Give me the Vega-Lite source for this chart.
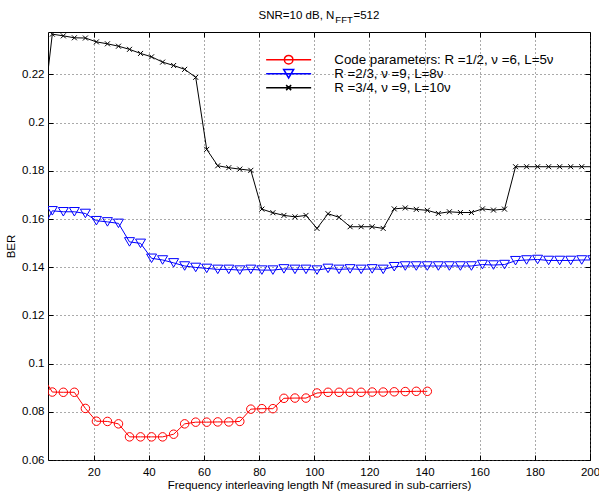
{
  "$schema": "https://vega.github.io/schema/vega-lite/v6.json",
  "width": 542,
  "height": 428,
  "autosize": {"type": "none"},
  "padding": {"left": 48, "top": 32, "right": 9, "bottom": 33},
  "background": "white",
  "title": {
    "text": "SNR=10 dB, N\u00a0\u00a0\u00a0\u00a0\u00a0\u00a0=512",
    "subtitle": "\u200b\u00a0\u00a0\u00a0\u00a0\u00a0\u00a0\u00a0\u00a0\u00a0\u00a0\u00a0\u00a0\u00a0\u00a0\u00a0\u00a0\u00a0\u00a0\u00a0FFT",
    "anchor": "middle",
    "font": "Liberation Sans",
    "fontSize": 11.5,
    "fontWeight": "normal",
    "color": "black",
    "subtitleFont": "Liberation Sans",
    "subtitleFontSize": 9.5,
    "subtitleColor": "black",
    "subtitlePadding": -6,
    "offset": 7
  },
  "config": {"view": {"stroke": "black", "strokeWidth": 1}, "font": "Liberation Sans"},
  "datasets": {
    "ber": [
      {"x": 1, "y": 0.0955, "s": "a"}, {"x": 5, "y": 0.0882, "s": "a"}, {"x": 9, "y": 0.0881, "s": "a"}, {"x": 13, "y": 0.0881, "s": "a"},
      {"x": 17, "y": 0.0814, "s": "a"}, {"x": 21, "y": 0.0761, "s": "a"}, {"x": 25, "y": 0.076, "s": "a"}, {"x": 29, "y": 0.075, "s": "a"},
      {"x": 33, "y": 0.0696, "s": "a"}, {"x": 37, "y": 0.0696, "s": "a"}, {"x": 41, "y": 0.0696, "s": "a"}, {"x": 45, "y": 0.0696, "s": "a"},
      {"x": 49, "y": 0.0707, "s": "a"}, {"x": 53, "y": 0.075, "s": "a"}, {"x": 57, "y": 0.0757, "s": "a"}, {"x": 61, "y": 0.0757, "s": "a"},
      {"x": 65, "y": 0.0758, "s": "a"}, {"x": 69, "y": 0.0758, "s": "a"}, {"x": 73, "y": 0.076, "s": "a"}, {"x": 77, "y": 0.0811, "s": "a"},
      {"x": 81, "y": 0.0813, "s": "a"}, {"x": 85, "y": 0.0813, "s": "a"}, {"x": 89, "y": 0.0856, "s": "a"}, {"x": 93, "y": 0.0857, "s": "a"},
      {"x": 97, "y": 0.0857, "s": "a"}, {"x": 101, "y": 0.0878, "s": "a"}, {"x": 105, "y": 0.0881, "s": "a"}, {"x": 109, "y": 0.0881, "s": "a"},
      {"x": 113, "y": 0.0881, "s": "a"}, {"x": 117, "y": 0.0881, "s": "a"}, {"x": 121, "y": 0.0882, "s": "a"}, {"x": 125, "y": 0.0882, "s": "a"},
      {"x": 129, "y": 0.0883, "s": "a"}, {"x": 133, "y": 0.0884, "s": "a"}, {"x": 137, "y": 0.0885, "s": "a"}, {"x": 141, "y": 0.0885, "s": "a"},

      {"x": 1, "y": 0.1549, "s": "b"}, {"x": 5, "y": 0.1634, "s": "b"}, {"x": 9, "y": 0.163, "s": "b"}, {"x": 13, "y": 0.163, "s": "b"},
      {"x": 17, "y": 0.1623, "s": "b"}, {"x": 21, "y": 0.1593, "s": "b"}, {"x": 25, "y": 0.1588, "s": "b"}, {"x": 29, "y": 0.1582, "s": "b"},
      {"x": 33, "y": 0.1505, "s": "b"}, {"x": 37, "y": 0.1499, "s": "b"}, {"x": 41, "y": 0.1437, "s": "b"}, {"x": 45, "y": 0.143, "s": "b"},
      {"x": 49, "y": 0.1418, "s": "b"}, {"x": 53, "y": 0.1405, "s": "b"}, {"x": 57, "y": 0.1399, "s": "b"}, {"x": 61, "y": 0.1395, "s": "b"},
      {"x": 65, "y": 0.1391, "s": "b"}, {"x": 69, "y": 0.1391, "s": "b"}, {"x": 73, "y": 0.1388, "s": "b"}, {"x": 77, "y": 0.1391, "s": "b"},
      {"x": 81, "y": 0.1388, "s": "b"}, {"x": 85, "y": 0.1388, "s": "b"}, {"x": 89, "y": 0.1393, "s": "b"}, {"x": 93, "y": 0.1391, "s": "b"},
      {"x": 97, "y": 0.1391, "s": "b"}, {"x": 101, "y": 0.1388, "s": "b"}, {"x": 105, "y": 0.1395, "s": "b"}, {"x": 109, "y": 0.1391, "s": "b"},
      {"x": 113, "y": 0.1393, "s": "b"}, {"x": 117, "y": 0.1391, "s": "b"}, {"x": 121, "y": 0.1393, "s": "b"}, {"x": 125, "y": 0.1391, "s": "b"},
      {"x": 129, "y": 0.1402, "s": "b"}, {"x": 133, "y": 0.1405, "s": "b"}, {"x": 137, "y": 0.1405, "s": "b"}, {"x": 141, "y": 0.1405, "s": "b"},
      {"x": 145, "y": 0.1405, "s": "b"}, {"x": 149, "y": 0.1405, "s": "b"}, {"x": 153, "y": 0.1405, "s": "b"}, {"x": 157, "y": 0.1405, "s": "b"},
      {"x": 161, "y": 0.1411, "s": "b"}, {"x": 165, "y": 0.1409, "s": "b"}, {"x": 169, "y": 0.1411, "s": "b"}, {"x": 173, "y": 0.1427, "s": "b"},
      {"x": 177, "y": 0.143, "s": "b"}, {"x": 181, "y": 0.1432, "s": "b"}, {"x": 185, "y": 0.1428, "s": "b"}, {"x": 189, "y": 0.1428, "s": "b"},
      {"x": 193, "y": 0.1428, "s": "b"}, {"x": 197, "y": 0.143, "s": "b"}, {"x": 201, "y": 0.143, "s": "b"},

      {"x": 1, "y": 0.1974, "s": "c"}, {"x": 5, "y": 0.2367, "s": "c"}, {"x": 9, "y": 0.236, "s": "c"}, {"x": 13, "y": 0.2352, "s": "c"},
      {"x": 17, "y": 0.2351, "s": "c"}, {"x": 21, "y": 0.2335, "s": "c"}, {"x": 25, "y": 0.2327, "s": "c"}, {"x": 29, "y": 0.2317, "s": "c"},
      {"x": 33, "y": 0.2304, "s": "c"}, {"x": 37, "y": 0.2287, "s": "c"}, {"x": 41, "y": 0.2273, "s": "c"}, {"x": 45, "y": 0.2251, "s": "c"},
      {"x": 49, "y": 0.2237, "s": "c"}, {"x": 53, "y": 0.2221, "s": "c"}, {"x": 57, "y": 0.2188, "s": "c"}, {"x": 61, "y": 0.1889, "s": "c"},
      {"x": 65, "y": 0.1821, "s": "c"}, {"x": 69, "y": 0.1813, "s": "c"}, {"x": 73, "y": 0.1807, "s": "c"}, {"x": 77, "y": 0.1802, "s": "c"},
      {"x": 81, "y": 0.1641, "s": "c"}, {"x": 85, "y": 0.1626, "s": "c"}, {"x": 89, "y": 0.1615, "s": "c"}, {"x": 93, "y": 0.1609, "s": "c"},
      {"x": 97, "y": 0.1615, "s": "c"}, {"x": 101, "y": 0.1561, "s": "c"}, {"x": 105, "y": 0.1622, "s": "c"}, {"x": 109, "y": 0.1607, "s": "c"},
      {"x": 113, "y": 0.1568, "s": "c"}, {"x": 117, "y": 0.1568, "s": "c"}, {"x": 121, "y": 0.1568, "s": "c"}, {"x": 125, "y": 0.1561, "s": "c"},
      {"x": 129, "y": 0.1642, "s": "c"}, {"x": 133, "y": 0.1646, "s": "c"}, {"x": 137, "y": 0.164, "s": "c"}, {"x": 141, "y": 0.1636, "s": "c"},
      {"x": 145, "y": 0.1623, "s": "c"}, {"x": 149, "y": 0.163, "s": "c"}, {"x": 153, "y": 0.1627, "s": "c"}, {"x": 157, "y": 0.1627, "s": "c"},
      {"x": 161, "y": 0.1642, "s": "c"}, {"x": 165, "y": 0.1637, "s": "c"}, {"x": 169, "y": 0.1641, "s": "c"}, {"x": 173, "y": 0.1817, "s": "c"},
      {"x": 177, "y": 0.1817, "s": "c"}, {"x": 181, "y": 0.1817, "s": "c"}, {"x": 185, "y": 0.1817, "s": "c"}, {"x": 189, "y": 0.1817, "s": "c"},
      {"x": 193, "y": 0.1817, "s": "c"}, {"x": 197, "y": 0.1817, "s": "c"}, {"x": 201, "y": 0.1817, "s": "c"}
    ]
  },
  "data": {"name": "ber"},
  "resolve": {"axis": {"x": "independent", "y": "independent"}},
  "layer": [
    {
      "mark": {"type": "line", "strokeWidth": 1, "clip": true},
      "encoding": {
        "x": {"field": "x", "type": "quantitative",
          "scale": {"domain": [3.44, 200], "nice": false, "zero": false},
          "axis": {"orient": "bottom", "values": [20, 40, 60, 80, 100, 120, 140, 160, 180, 200],
            "grid": true, "gridDash": [1, 3], "gridColor": "#555", "gridWidth": 1,
            "domain": false, "ticks": true, "tickSize": -5, "tickColor": "black", "tickWidth": 1,
            "labelPadding": 11, "labelFont": "Liberation Sans", "labelFontSize": 11.5, "labelColor": "black",
            "labelFlush": false, "labelOverlap": false,
            "title": "Frequency interleaving length Nf (measured in sub-carriers)",
            "titleFont": "Liberation Sans", "titleFontSize": 11.5, "titleFontWeight": "normal", "titleColor": "black", "titlePadding": 2}},
        "y": {"field": "y", "type": "quantitative",
          "scale": {"domain": [0.06, 0.2376], "nice": false, "zero": false},
          "axis": {"orient": "left", "values": [0.06, 0.08, 0.1, 0.12, 0.14, 0.16, 0.18, 0.2, 0.22], "format": "~g",
            "grid": true, "gridDash": [1, 3], "gridColor": "#555", "gridWidth": 1,
            "domain": false, "ticks": true, "tickSize": -5, "tickColor": "black", "tickWidth": 1,
            "labelPadding": 9, "labelFont": "Liberation Sans", "labelFontSize": 11.5, "labelColor": "black",
            "labelFlush": false, "labelOverlap": false,
            "title": "BER", "titleFont": "Liberation Sans", "titleFontSize": 11.5, "titleFontWeight": "normal", "titleColor": "black", "titlePadding": 5}},
        "color": {"field": "s", "type": "nominal", "scale": {"domain": ["a", "b", "c"], "range": ["#ff0000", "#0000ff", "#000000"]}},
        "detail": {"field": "s"}
      }
    },
    {
      "transform": [{"filter": "datum.s == 'a'"}],
      "mark": {"type": "point", "shape": "circle", "filled": false, "size": 72, "strokeWidth": 1, "opacity": 1, "clip": true},
      "encoding": {
        "x": {"field": "x", "type": "quantitative", "scale": {"domain": [3.44, 200], "nice": false, "zero": false}, "axis": null},
        "y": {"field": "y", "type": "quantitative", "scale": {"domain": [0.06, 0.2376], "nice": false, "zero": false}, "axis": null},
        "color": {"field": "s", "type": "nominal"}
      }
    },
    {
      "transform": [{"filter": "datum.s == 'b'"}],
      "mark": {"type": "point", "shape": "M-1,-0.85L1,-0.85L0,0.85Z", "filled": false, "size": 100, "strokeWidth": 1, "opacity": 1, "clip": true},
      "encoding": {
        "x": {"field": "x", "type": "quantitative", "scale": {"domain": [3.44, 200], "nice": false, "zero": false}, "axis": null},
        "y": {"field": "y", "type": "quantitative", "scale": {"domain": [0.06, 0.2376], "nice": false, "zero": false}, "axis": null},
        "color": {"field": "s", "type": "nominal"}
      }
    },
    {
      "transform": [{"filter": "datum.s == 'c'"}],
      "mark": {"type": "point", "shape": "M-1,-1L1,1M-1,1L1,-1", "filled": false, "size": 25, "strokeWidth": 1, "opacity": 1, "clip": true},
      "encoding": {
        "x": {"field": "x", "type": "quantitative", "scale": {"domain": [3.44, 200], "nice": false, "zero": false}, "axis": null},
        "y": {"field": "y", "type": "quantitative", "scale": {"domain": [0.06, 0.2376], "nice": false, "zero": false}, "axis": null},
        "color": {"field": "s", "type": "nominal"}
      }
    },
    {
      "mark": {"type": "point", "filled": false, "size": 100, "strokeWidth": 1, "opacity": 0, "clip": true},
      "encoding": {
        "x": {"field": "x", "type": "quantitative", "scale": {"domain": [3.44, 200], "nice": false, "zero": false},
          "axis": {"orient": "top", "values": [20, 40, 60, 80, 100, 120, 140, 160, 180, 200], "grid": false, "labels": false,
            "domain": false, "ticks": true, "tickSize": -5, "tickColor": "black", "tickWidth": 1, "title": null}},
        "y": {"field": "y", "type": "quantitative", "scale": {"domain": [0.06, 0.2376], "nice": false, "zero": false},
          "axis": {"orient": "right", "values": [0.06, 0.08, 0.1, 0.12, 0.14, 0.16, 0.18, 0.2, 0.22], "grid": false, "labels": false,
            "domain": false, "ticks": true, "tickSize": -5, "tickColor": "black", "tickWidth": 1, "title": null}},
        "color": {"field": "s", "type": "nominal",
          "legend": {"orient": "none", "legendX": 234, "legendY": 21, "title": null, "padding": 0,
            "labelFont": "Liberation Sans", "labelFontSize": 13.3, "labelColor": "black", "labelOffset": 39, "labelLimit": 500, "rowPadding": -5.5,
            "labelExpr": "datum.value == 'a' ? 'Code parameters: R =1/2, ν =6, L=5ν' : datum.value == 'b' ? 'R =2/3, ν =9, L=8ν' : 'R =3/4, ν =9, L=10ν'",
            "encode": {"symbols": {"update": {"opacity": {"value": 1}, "size": {"value": 100}, "strokeWidth": {"value": 1}, "fill": {"value": "transparent"}}}}}},
        "shape": {"field": "s", "type": "nominal",
          "scale": {"domain": ["a", "b", "c"], "range": [
            "M-4.5,0H4.5M-0.85,0A0.85,0.85 0 1,0 0.85,0A0.85,0.85 0 1,0 -0.85,0",
            "M-4.5,0H4.5M-1,-0.85L1,-0.85L0,0.85Z",
            "M-4.5,0H4.5M-0.5,-0.5L0.5,0.5M-0.5,0.5L0.5,-0.5"]},
          "legend": {"orient": "none", "legendX": 234, "legendY": 21, "title": null, "padding": 0,
            "labelFont": "Liberation Sans", "labelFontSize": 13.3, "labelColor": "black", "labelOffset": 39, "labelLimit": 500, "rowPadding": -5.5,
            "labelExpr": "datum.value == 'a' ? 'Code parameters: R =1/2, ν =6, L=5ν' : datum.value == 'b' ? 'R =2/3, ν =9, L=8ν' : 'R =3/4, ν =9, L=10ν'",
            "encode": {"symbols": {"update": {"opacity": {"value": 1}, "size": {"value": 100}, "strokeWidth": {"value": 1}, "fill": {"value": "transparent"}}}}}}
      }
    }
  ]
}
